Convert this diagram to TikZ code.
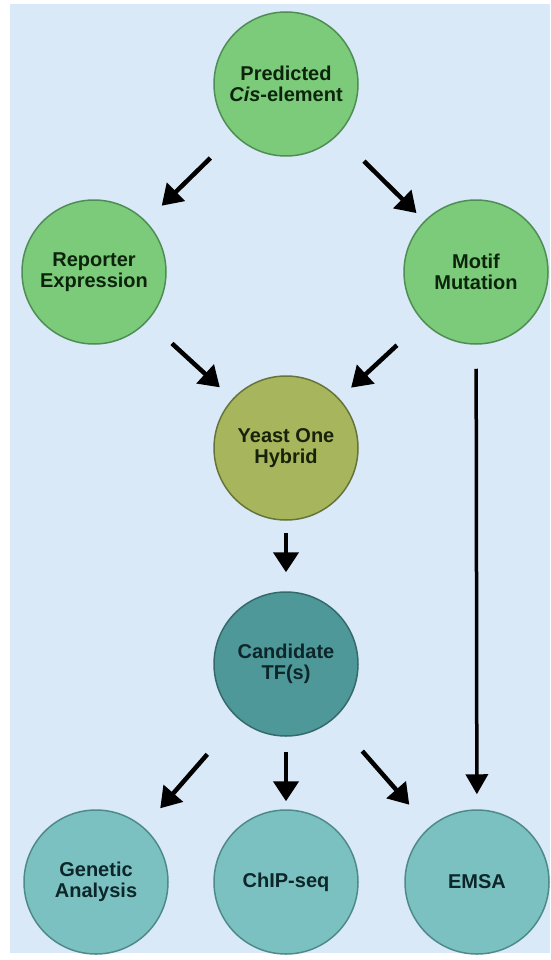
\documentclass[tikz,border=0pt]{standalone}
\usepackage{fontspec}
\setmainfont{Liberation Sans}
\usetikzlibrary{arrows.meta}
\definecolor{bgblue}{HTML}{DAE9F8}
\definecolor{greenfill}{HTML}{7CCB7A}
\definecolor{greenline}{HTML}{4E8E55}
\definecolor{greentext}{HTML}{0C240C}
\definecolor{olivefill}{HTML}{A7B65C}
\definecolor{oliveline}{HTML}{66743A}
\definecolor{olivetext}{HTML}{18220A}
\definecolor{darkteal}{HTML}{4E9899}
\definecolor{darktealline}{HTML}{356A6B}
\definecolor{tealfill}{HTML}{7CC1C1}
\definecolor{tealline}{HTML}{4F8A8B}
\definecolor{tealtext}{HTML}{0C2629}
\tikzset{
  bubble/.style={circle, minimum size=144pt, inner sep=0pt, align=center, line width=1.5pt,
    font=\bfseries\fontsize{20}{20.5}\selectfont},
  greenb/.style={bubble, fill=greenfill, draw=greenline, text=greentext},
  oliveb/.style={bubble, fill=olivefill, draw=oliveline, text=olivetext},
  darkb/.style={bubble, fill=darkteal, draw=darktealline, text=tealtext},
  tealb/.style={bubble, fill=tealfill, draw=tealline, text=tealtext},
  arr/.style={line width=4.5pt, black, -{Triangle[width=25pt,length=20pt]}},
  longarr/.style={line width=3.5pt, black, -{Triangle[width=22pt,length=20pt]}}
}
\begin{document}
\begin{tikzpicture}[x=1pt,y=-1pt]
\useasboundingbox (0,0) rectangle (550,960);
\fill[white] (0,0) rectangle (550,960);
\fill[bgblue] (10,4) rectangle (550,953);
\node[greenb] (pred) at (286,84) {Predicted\\\textit{Cis}-element};
\node[greenb] (rep) at (94,272) {Reporter\\Expression};
\node[greenb] (mot) at (476,272) {Motif\\Mutation};
\node[oliveb] (yeast) at (286,448) {Yeast One\\Hybrid};
\node[darkb] (cand) at (286,664) {Candidate\\TF(s)};
\node[tealb] (gen) at (96,882) {Genetic\\Analysis};
\node[tealb] (chip) at (286,882) {ChIP-seq};
\node[tealb] (emsa) at (477,882) {EMSA};
\draw[arr, shorten <=33pt, shorten >=22pt] (pred) -- (rep);
\draw[arr, shorten <=37pt, shorten >=11pt] (pred) -- (mot);
\draw[arr, shorten <=33pt, shorten >=17pt] (rep) -- (yeast);
\draw[arr, shorten <=35pt, shorten >=16pt] (mot) -- (yeast);
\draw[arr, shorten <=12pt, shorten >=19pt] (yeast) -- (cand);
\draw[arr, shorten <=47pt, shorten >=25pt] (cand) -- (gen);
\draw[arr, shorten <=15pt, shorten >=8pt] (cand) -- (chip);
\draw[arr, shorten <=43pt, shorten >=30pt] (cand) -- (emsa);
\draw[longarr, shorten <=24pt, shorten >=15pt] (mot) -- (emsa);
\end{tikzpicture}
\end{document}
